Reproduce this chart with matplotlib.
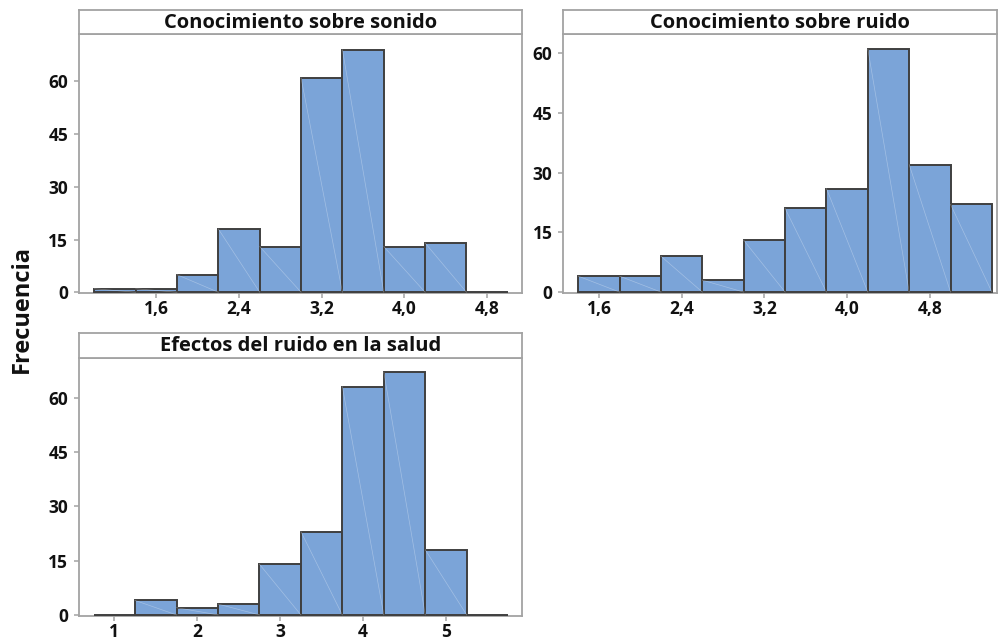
import matplotlib
matplotlib.use("Agg")
import matplotlib.pyplot as plt

# ---------------- data ----------------
titles = ["Conocimiento sobre sonido", "Conocimiento sobre ruido", "Efectos del ruido en la salud"]

sonido_edges = [1.0, 1.4, 1.8, 2.2, 2.6, 3.0, 3.4, 3.8, 4.2, 4.6, 5.0]
sonido_counts = [1, 1, 5, 18, 13, 61, 69, 13, 14, 0]

ruido_edges = [1.4, 1.8, 2.2, 2.6, 3.0, 3.4, 3.8, 4.2, 4.6, 5.0, 5.4]
ruido_counts = [4, 4, 9, 3, 13, 21, 26, 61, 32, 22]

salud_edges = [0.75, 1.25, 1.75, 2.25, 2.75, 3.25, 3.75, 4.25, 4.75, 5.25, 5.75]
salud_counts = [0, 4, 2, 3, 14, 23, 63, 67, 18, 0]

y_ticks = [0, 15, 30, 45, 60]
x_ticks_a = [1.6, 2.4, 3.2, 4.0, 4.8]
x_labels_a = ["1,6", "2,4", "3,2", "4,0", "4,8"]
x_ticks_b = [1, 2, 3, 4, 5]
x_labels_b = ["1", "2", "3", "4", "5"]
y_label = "Frecuencia"

# ---------------- style ----------------
W, H = 998, 642
FONT = ["Open Sans", "DejaVu Sans"]
plt.rcParams["font.family"] = FONT
BAR = "#7BA4D8"
EDGE = "#3F3F3F"
SPINE = "#A3A3A3"
TXT = "#111111"
WEIGHT = "bold"

fig = plt.figure(figsize=(W / 100, H / 100), dpi=100)
fig.patch.set_facecolor("white")


def px_axes(x0, y0, x1, y1):
    return fig.add_axes([x0 / W, 1 - y1 / H, (x1 - x0) / W, (y1 - y0) / H])


def panel(box, strip_top, title, edges, counts, xlim, ylim, xt, xl):
    x0, y0, x1, y1 = box
    ax = px_axes(x0, y0, x1, y1)
    lefts = edges[:-1]
    widths = [b - a for a, b in zip(edges[:-1], edges[1:])]
    ax.bar(lefts, counts, width=widths, align="edge", color=BAR,
           edgecolor=EDGE, linewidth=1.4, zorder=3)
    # faint rendering diagonals inside each bar
    for a, w, c in zip(lefts, widths, counts):
        if c > 0:
            ax.plot([a, a + w], [c, 0], color="white", lw=0.5, alpha=0.3, zorder=4)
    ax.set_xlim(*xlim)
    ax.set_ylim(*ylim)
    ax.set_yticks(y_ticks)
    ax.set_xticks(xt)
    ax.set_xticklabels(xl)
    for s in ax.spines.values():
        s.set_color(SPINE)
        s.set_linewidth(1.3)
    ax.tick_params(axis="both", direction="out", length=3.3, width=1.1, color=SPINE,
                   labelsize=12.5, labelcolor=TXT)
    ax.tick_params(axis="y", pad=4.5)
    ax.tick_params(axis="x", pad=1.5)
    for lab in ax.get_xticklabels() + ax.get_yticklabels():
        lab.set_fontweight(WEIGHT)
    # strip
    st = px_axes(x0, strip_top, x1, y0)
    st.set_xticks([])
    st.set_yticks([])
    for s in st.spines.values():
        s.set_color(SPINE)
        s.set_linewidth(1.3)
    st.text(0.5, 0.45, title, ha="center", va="center", fontsize=14.5,
            fontweight=WEIGHT, color=TXT, transform=st.transAxes)
    return ax


panel((79, 34, 521.7, 293.3), 10, titles[0], sonido_edges, sonido_counts,
      (0.852, 5.134), (-0.3, 73.5), x_ticks_a, x_labels_a)
panel((563.3, 34, 997, 293.3), 10, titles[1], ruido_edges, ruido_counts,
      (1.255, 5.449), (-0.3, 64.8), x_ticks_a, x_labels_a)
panel((79, 357.7, 521.7, 616), 332.5, titles[2], salud_edges, salud_counts,
      (0.574, 5.913), (-0.3, 71.0), x_ticks_b, x_labels_b)

fig.text(21.7 / W, 1 - 309 / H, y_label, rotation=90, ha="center", va="center",
         fontsize=17, fontweight=WEIGHT, color=TXT)

fig.savefig("out.png", dpi=100, facecolor="white")
